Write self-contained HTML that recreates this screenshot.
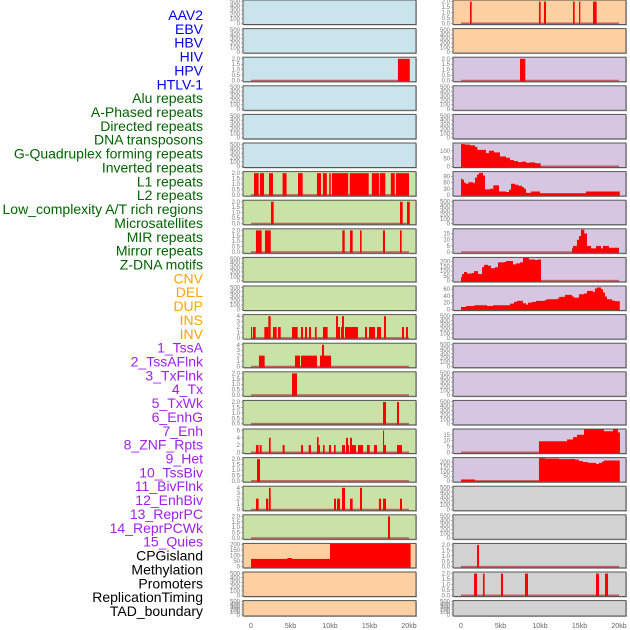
<!DOCTYPE html>
<html><head><meta charset="utf-8">
<style>
body{margin:0;background:#fff;width:630px;height:630px;overflow:hidden}
svg{display:block}
text{font-family:"Liberation Sans",sans-serif}
</style></head><body>
<svg id="chart" width="630" height="630" xmlns="http://www.w3.org/2000/svg">
<g id="labels"></g>
<g id="panels"></g>
<g id="xaxes"></g>
</svg>
<script>
const trackLabels = ["AAV2","EBV","HBV","HIV","HPV","HTLV-1","Alu repeats","A-Phased repeats","Directed repeats","DNA transposons","G-Quadruplex forming repeats","Inverted repeats","L1 repeats","L2 repeats","Low_complexity A/T rich regions","Microsatellites","MIR repeats","Mirror repeats","Z-DNA motifs","CNV","DEL","DUP","INS","INV","1_TssA","2_TssAFlnk","3_TxFlnk","4_Tx","5_TxWk","6_EnhG","7_Enh","8_ZNF_Rpts","9_Het","10_TssBiv","11_BivFlnk","12_EnhBiv","13_ReprPC","14_ReprPCWk","15_Quies","CPGisland","Methylation","Promoters","ReplicationTiming","TAD_boundary"];
const labelColors = {virus:"#0000ee",repeat:"#006400",sv:"#ffa500",hmm:"#a020f0",other:"#000000"};
const labelGroups = [6,13,5,15,5];
const xTickValues = [0,5,10,15,20];
const xTickLabels = ["0","5kb","10kb","15kb","20kb"];
const bgLeft = ["#c9e4ec","#c9e4ec","#c9e4ec","#c9e4ec","#c9e4ec","#c9e4ec","#c9e2a5","#c9e2a5","#c9e2a5","#c9e2a5","#c9e2a5","#c9e2a5","#c9e2a5","#c9e2a5","#c9e2a5","#c9e2a5","#c9e2a5","#c9e2a5","#c9e2a5","#fecfa0","#fecfa0","#fecfa0"];
const bgRight = ["#fecfa0","#fecfa0","#d6c6e2","#d6c6e2","#d6c6e2","#d6c6e2","#d6c6e2","#d6c6e2","#d6c6e2","#d6c6e2","#d6c6e2","#d6c6e2","#d6c6e2","#d6c6e2","#d6c6e2","#d6c6e2","#d6c6e2","#d2d2d2","#d2d2d2","#d2d2d2","#d2d2d2","#d2d2d2"];
const yTopLeft = [520,520,2.1,520,520,520,2.1,2.1,2.1,520,520,4.2,4.2,2.1,2.1,6.3,2.1,4.2,2.1,205,520,520];
const yTopRight = [2.1,520,2.1,520,520,147,112,520,18.4,237,68,520,520,520,520,19.5,241,520,520,2.1,2.1,520];
const ticksEmpty = [0,100,200,300,400,500];
const ticks2 = [0,0.5,1,1.5,2];
const ticks4 = [0,1,2,3,4];
const ticks6 = [0,2,4,6];
const ticks200 = [0,50,100,150,200];
const ticksR5 = [0,50,100];
const ticksR6 = [0,30,60,90];
const ticks15 = [0,5,10,15];
const ticks60 = [0,20,40,60];
const ticksLeft = [ticksEmpty,ticksEmpty,ticks2,ticksEmpty,ticksEmpty,ticksEmpty,ticks2,ticks2,ticks2,ticksEmpty,ticksEmpty,ticks4,ticks4,ticks2,ticks2,ticks6,ticks2,ticks4,ticks2,ticks200,ticksEmpty,ticksEmpty];
const ticksRight = [ticks2,ticksEmpty,ticks2,ticksEmpty,ticksEmpty,ticksR5,ticksR6,ticksEmpty,ticks15,ticks200,ticks60,ticksEmpty,ticksEmpty,ticksEmpty,ticksEmpty,ticks15,ticks200,ticksEmpty,ticksEmpty,ticks2,ticks2,ticksEmpty];

const barsL2 = [[18.6,20.1,2]];
const barsL6 = [[0.38,0.97,2],[1.14,1.65,2],[2.28,2.78,2],[4.0,4.5,2],[5.95,6.54,2],[8.35,8.86,2],[9.1,9.6,2],[9.9,10.1,2],[10.25,12.3,2],[12.5,14.9,2],[15.3,16.2,2],[16.3,17.0,2],[17.7,18.2,2],[18.35,20.0,2]];
const barsL7 = [[2.53,2.87,2],[18.86,19.2,2],[19.75,20.1,2]];
const barsL8 = [[0.63,1.35,2],[1.77,2.5,2],[11.56,11.86,2],[12.53,12.87,2],[13.8,14.0,2],[16.7,16.96,2],[18.86,19.07,2]];
const barsL11 = [[0,0.13,2],[0.25,0.59,2],[1.69,2.19,2],[2.19,2.49,4],[2.78,3.25,2],[3.42,3.76,2],[5.19,5.91,2],[6.33,6.58,2],[6.84,7.09,2],[7.34,7.59,2],[8.1,8.31,2],[9.11,9.7,2],[10.76,11.01,4],[11.01,11.27,2],[11.39,11.52,2],[11.52,11.77,4],[11.9,13.54,2],[14.43,14.68,2],[14.94,15.7,2],[15.95,16.46,2],[16.84,17.09,4],[19.11,19.37,2],[19.62,19.87,2]];
const barsL12 = [[1.01,1.73,2],[5.57,6.2,2],[6.33,8.35,2],[8.73,10.13,2],[8.99,9.24,4]];
const barsL13 = [[5.19,5.82,2]];
const barsL14 = [[16.71,17.09,2],[18.48,18.73,2]];
const barsL15 = [[0.63,0.97,2],[1.1,1.35,2],[2.28,2.49,4],[4.0,4.26,2],[6.33,6.58,2],[7.3,7.59,2],[8.35,8.56,4.2],[8.56,8.73,2],[9.11,9.32,2],[9.87,10.13,2],[10.51,10.72,2],[11.52,11.9,2],[12.03,12.28,4],[12.28,12.41,2],[12.53,12.78,4],[12.78,13.29,2],[13.54,14.18,2],[14.68,15.02,2],[15.57,15.95,2],[16.71,16.84,6],[16.84,17.09,2],[18.48,19.11,2]];
const barsL16 = [[0.76,1.14,2]];
const barsL17 = [[0.63,0.97,2],[1.9,2.19,2],[2.28,2.49,4],[10.51,10.76,2],[10.89,11.27,2],[11.52,11.9,4],[12.53,12.87,2],[13.8,14.05,4],[16.2,16.46,2],[16.71,17.09,2],[18.86,19.11,2]];
const barsL18 = [[17.34,17.59,2]];
const barsL19 = [[0,10,70],[4.6,5.2,78],[10,20.2,210]];
const barsR0 = [[1.14,1.35,2],[9.87,10.08,2],[10.5,10.76,2],[14.18,14.39,2],[14.94,15.1,2],[16.71,17.17,2]];
const barsR2 = [[7.47,8.14,2]];
const barsR19 = [[2.03,2.28,2]];
const barsR20 = [[1.65,2.03,2],[2.78,2.99,2],[5.06,5.32,2],[8.1,8.48,2],[17.09,17.47,2],[18.23,18.61,2]];

const edgesR5 = [0,0.51,1.14,1.77,2.07,3.16,3.54,4.18,4.93,5.7,6.2,6.71,7.21,7.72,8.23,8.73,9.37,10.08];
const valuesR5 = [143,140,135,125,106,85,100,90,63,55,40,33,27,30,23,25,20];
const edgesR6 = [0,0.13,0.38,0.63,0.93,1.56,1.77,2.03,2.28,2.78,3.04,3.67,4.09,4.81,5.7,6.07,6.33,6.84,7.26,7.72,7.97,8.23,8.86,10.0,15.82,20.1];
const valuesR6 = [80,75,60,55,62,58,85,100,108,95,27,30,47,17,14,25,55,50,45,38,30,10,17,8,17];
const edgesR8 = [14.05,14.18,14.68,14.94,15.19,15.61,15.95,16.46,17.09,17.72,17.97,18.73,20.0];
const valuesR8 = [3,5,10,13,18,15,5,3,5,3,5,3.5];
const edgesR9 = [0,0.13,0.38,0.76,1.39,1.65,2.15,2.66,2.91,3.42,3.8,4.3,4.68,5.44,5.7,6.58,6.96,7.47,7.85,8.61,9.37,9.75,10.13];
const valuesR9 = [40,70,90,75,80,100,70,140,165,155,130,140,190,195,205,170,180,190,240,220,215,220];
const edgesR10 = [0,0.63,1.69,3.29,4.05,6.2,6.71,7.09,7.85,8.23,8.48,8.99,9.49,10.63,10.89,12.15,12.41,13.16,14.05,14.3,14.94,15.57,15.95,16.71,16.96,17.22,17.72,17.97,18.23,18.48,19.11,19.49,20.1];
const valuesR10 = [7,10,12,10,12,17,22,25,18,14,20,22,25,28,30,32,37,43,38,35,45,47,55,52,62,65,60,50,38,30,26,24];
const edgesR15 = [9.87,13.42,14.18,14.68,15.57,18.1,19.24,19.87,20.12];
const valuesR15 = [9.5,11,13,15,20,18,20,17];
const edgesR16 = [0,1.77,9.87,10.63,12.41,13.8,14.43,14.94,15.44,16.08,17.09,17.47,17.85,18.1,20.1];
const valuesR16 = [15,0,250,235,230,232,225,210,200,190,180,190,205,215];

const NS = "http://www.w3.org/2000/svg";
const ROWS = 22, PITCH = 28.6, PH = 24.5;
const cols = [{x0:243,x1:416,z:251,k:7.9},{x0:453,x1:626,z:461,k:7.9}];
function mk(tag, attrs, parent){const e=document.createElementNS(NS,tag);for(const a in attrs)e.setAttribute(a,attrs[a]);parent.appendChild(e);return e;}
function xScale(c,kb){return cols[c].z+kb*cols[c].k;}
function rowTop(r){return r*PITCH;}
function rowBottom(r){return r===21?616:r*PITCH+PH;}
function yScale(r,top,v){const b=rowBottom(r)-1.2, t=rowTop(r)+0.5;return b-(Math.min(v,top)/top)*(b-t);}

const gL=document.getElementById('labels');
const groupColors=[labelColors.virus,labelColors.repeat,labelColors.sv,labelColors.hmm,labelColors.other];
let idx=0;
labelGroups.forEach((n,g)=>{for(let i=0;i<n;i++){const lbl=trackLabels[idx];
 const t=mk('text',{x:203,y:15+idx*13.86+5,'text-anchor':'end','font-size':'14',fill:groupColors[g]},gL);
 t.textContent=lbl;
 
 
 idx++;}});

const gP=document.getElementById('panels');
const barsLeft={2:barsL2,6:barsL6,7:barsL7,8:barsL8,11:barsL11,12:barsL12,13:barsL13,14:barsL14,15:barsL15,16:barsL16,17:barsL17,18:barsL18,19:barsL19};
const barsRight={0:barsR0,2:barsR2,19:barsR19,20:barsR20};
const stepsRight={5:[edgesR5,valuesR5],6:[edgesR6,valuesR6],8:[edgesR8,valuesR8],9:[edgesR9,valuesR9],10:[edgesR10,valuesR10],15:[edgesR15,valuesR15],16:[edgesR16,valuesR16]};

function fmt(v,ticks){const dec=ticks.some(t=>t%1!==0);return dec?v.toFixed(1):String(v);}

for(let c=0;c<2;c++){
 for(let r=0;r<ROWS;r++){
  const g=mk('g',{},gP);
  
  
  const top=c===0?yTopLeft[r]:yTopRight[r];
  const ticks=c===0?ticksLeft[r]:ticksRight[r];
  const bg=c===0?bgLeft[r]:bgRight[r];
  const x0=cols[c].x0,x1=cols[c].x1,yt=rowTop(r),yb=rowBottom(r);
  mk('rect',{x:x0+1,y:yt+1,width:x1-x0,height:yb-yt,fill:'#bbb'},g);
  const bgR=mk('rect',{x:x0,y:yt,width:x1-x0,height:yb-yt,fill:bg},g);
  
  
  const bars=c===0?barsLeft[r]:barsRight[r];
  const steps=c===1?stepsRight[r]:null;
  if(bars||steps){
   mk('line',{x1:xScale(c,0),x2:xScale(c,20),y1:yScale(r,top,0),y2:yScale(r,top,0),stroke:'#c04040','stroke-width':1.6,'stroke-opacity':0.8},g);
  }
  if(bars){bars.forEach(b=>{
   const y=yScale(r,top,b[2]),y0=yScale(r,top,0)+0.8;
   const rc=mk('rect',{x:xScale(c,b[0]),y:y,width:Math.max(1,xScale(c,b[1])-xScale(c,b[0])),height:y0-y,fill:'#ff0000'},g);
   
   
  });}
  if(steps){const [e,v]=steps;let d='M'+xScale(c,e[0])+','+(yScale(r,top,0)+0.8);
   for(let i=0;i<v.length;i++){const y=yScale(r,top,v[i]);d+=' L'+xScale(c,e[i])+','+y+' L'+xScale(c,e[i+1])+','+y;}
   d+=' L'+xScale(c,e[e.length-1])+','+(yScale(r,top,0)+0.8)+' Z';
   const p=mk('path',{d:d,fill:'#ff0000'},g);
   
   
  }
  mk('rect',{x:x0,y:yt,width:x1-x0,height:yb-yt,fill:'none',stroke:'#555','stroke-width':1},g);
  ticks.forEach(tv=>{const y=yScale(r,top,tv);
   const t=mk('text',{x:x0-3,y:y+2,'text-anchor':'end','font-size':'6',fill:'#777'},g);
   t.textContent=fmt(tv,ticks);
   
   
   mk('line',{x1:x0-2,x2:x0,y1:y,y2:y,stroke:'#777','stroke-width':0.5},g);
  });
 }
}
const gX=document.getElementById('xaxes');
for(let c=0;c<2;c++){xTickValues.forEach((v,i)=>{
 const t=mk('text',{x:xScale(c,v),y:628,'text-anchor':'middle','font-size':'7',fill:'#666'},gX);
 t.textContent=xTickLabels[i];
 
 
});}
</script>
</body></html>
